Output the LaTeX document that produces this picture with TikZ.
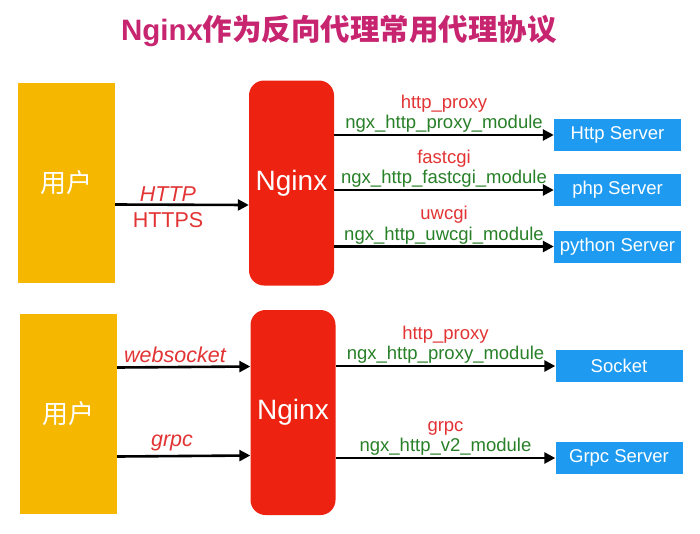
\documentclass[tikz,border=0pt]{standalone}
\usepackage{fontspec}
\setmainfont{Liberation Sans}
\newfontfamily\cjk{Noto Sans CJK SC}
\usetikzlibrary{positioning, arrows.meta}
\definecolor{ngorange}{RGB}{245,183,0}
\definecolor{ngred}{RGB}{238,34,17}
\definecolor{ngblue}{RGB}{30,155,240}
\definecolor{nglabel}{RGB}{226,52,52}
\definecolor{nggreen}{RGB}{40,128,40}
\definecolor{ngtitle}{RGB}{199,37,111}

\tikzset{
    userbox/.style={fill=ngorange, minimum width=97pt, minimum height=200pt, text=white, font=\fontsize{26}{28}\selectfont\cjk},
    nginxbox/.style={fill=ngred, rounded corners=15pt, minimum width=85pt, minimum height=205pt, text=white, font=\fontsize{28}{30}\selectfont},
    serverbox/.style={fill=ngblue, minimum width=127pt, minimum height=32pt, text=white, font=\fontsize{18.5}{20}\selectfont},
    arr/.style={line width=2.6pt, -{Triangle[length=11pt, width=11pt]}},
    modlbl/.style={midway, above, inner sep=1pt, text=nggreen, font=\fontsize{18.5}{20}\selectfont, text height=13pt, text depth=4pt},
    protolbl/.style={inner sep=1pt, text=nglabel, font=\fontsize{18.5}{20}\selectfont, text height=13pt, text depth=4pt},
    userlbl/.style={inner sep=1pt, text=nglabel, font=\fontsize{21.5}{23}\selectfont}
}

\begin{document}
\begin{tikzpicture}[x=1pt, y=-1pt]
        % background
        \useasboundingbox[fill=white] (0,0) rectangle (700,533);

        % title
        \node[text=ngtitle, font=\fontsize{29.5}{31}\selectfont\bfseries] (title) at (339,31) {Nginx{\cjk 作为反向代理常用代理协议}};

        % top part
        \node[userbox] (user1) at (66.5,182.5) {用户};
        \node[nginxbox] (nginx1) at (291.5,183) {Nginx};
        \node[serverbox] (http) at (617.5,135) {Http Server};
        \node[serverbox] (php) at (617.5,190) {php Server};
        \node[serverbox] (python) at (617.5,246.5) {python Server};

        \draw[arr] ([yshift=-22pt]user1.east) -- ([yshift=-22pt]nginx1.west);
        \node[userlbl, font=\fontsize{21.5}{23}\selectfont\itshape] (lhttp) at (168,194) {HTTP};
        \node[userlbl] (lhttps) at (168,220) {HTTPS};

        \draw[arr] (nginx1.east |- http.west) -- node[modlbl] (m1) {ngx\_http\_proxy\_module} (http.west);
        \node[protolbl, above=0pt of m1] (p1) {http\_proxy};
        \draw[arr] (nginx1.east |- php.west) -- node[modlbl] (m2) {ngx\_http\_fastcgi\_module} (php.west);
        \node[protolbl, above=0pt of m2] (p2) {fastcgi};
        \draw[arr] (nginx1.east |- python.west) -- node[modlbl] (m3) {ngx\_http\_uwcgi\_module} (python.west);
        \node[protolbl, above=0pt of m3] (p3) {uwcgi};

        % bottom part
        \node[userbox] (user2) at (68.5,413.5) {用户};
        \node[nginxbox] (nginx2) at (293,412.5) {Nginx};
        \node[serverbox] (socket) at (619,366) {Socket};
        \node[serverbox] (grpc) at (619,458) {Grpc Server};

        \draw[arr] ([yshift=46pt]user2.east) -- ([yshift=46pt]nginx2.west);
        \node[userlbl, font=\fontsize{21.5}{23}\selectfont\itshape] (lws) at (175,355) {websocket};
        \draw[arr] ([yshift=-43pt]user2.east) -- ([yshift=-43pt]nginx2.west);
        \node[userlbl, font=\fontsize{21.5}{23}\selectfont\itshape] (lgrpc) at (172,443) {grpc};

        \draw[arr] (nginx2.east |- socket.west) -- node[modlbl] (m4) {ngx\_http\_proxy\_module} (socket.west);
        \node[protolbl, above=0pt of m4] (p4) {http\_proxy};
        \draw[arr] (nginx2.east |- grpc.west) -- node[modlbl] (m5) {ngx\_http\_v2\_module} (grpc.west);
        \node[protolbl, above=0pt of m5] (p5) {grpc};
\end{tikzpicture}
\end{document}
